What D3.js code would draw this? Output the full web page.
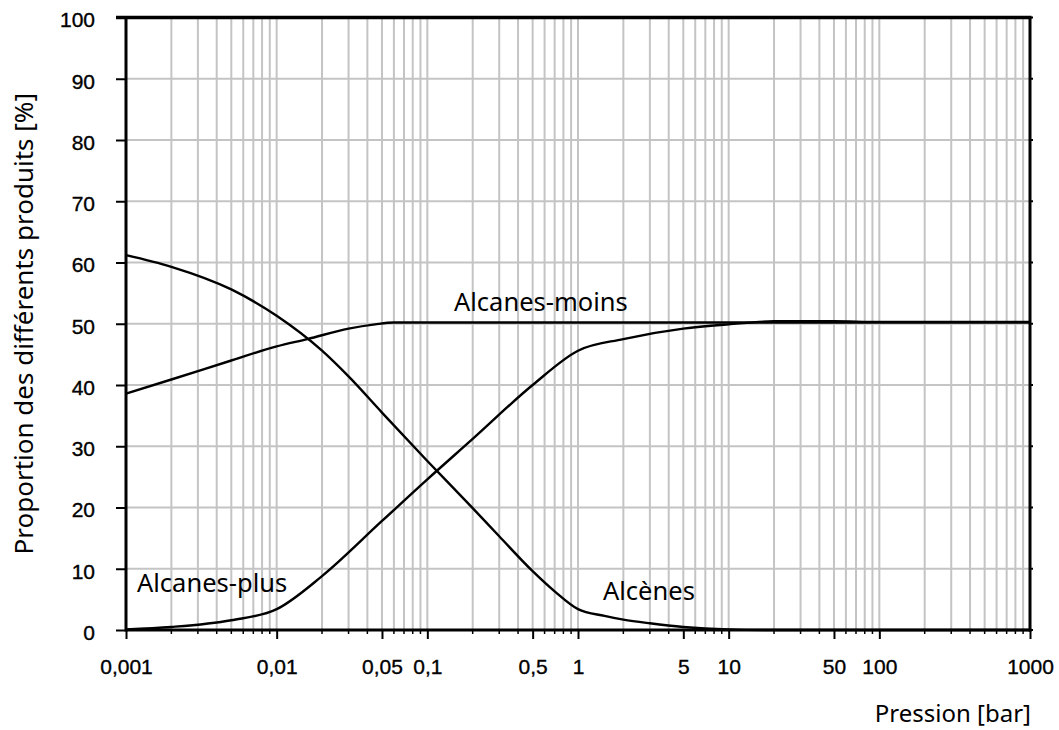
<!DOCTYPE html>
<html>
<head>
<meta charset="utf-8">
<script src="https://cdn.jsdelivr.net/npm/d3@7/dist/d3.min.js"></script>
<style>
  html, body { margin: 0; padding: 0; background: #fff; }
  svg { display: block; }
</style>
</head>
<body>
<svg id="chart" width="1059" height="730"></svg>
<script>
// ---- data ----
const xTickValues = [0.001, 0.01, 0.05, 0.1, 0.5, 1, 5, 10, 50, 100, 1000];
const xTickLabels = ["0,001", "0,01", "0,05", "0,1", "0,5", "1", "5", "10", "50", "100", "1000"];
const yTickValues = [0, 10, 20, 30, 40, 50, 60, 70, 80, 90, 100];

const pressionMoins = [0.001, 0.002, 0.005, 0.01, 0.016, 0.03, 0.045, 0.06, 1, 10, 100, 1000];
const alcanesMoins  = [38.6, 40.9, 44.0, 46.3, 47.5, 49.2, 49.9, 50.2, 50.2, 50.2, 50.2, 50.2];

const pressionPlus = [0.001, 0.002, 0.005, 0.01, 0.02, 0.05, 0.1, 0.2, 0.5, 1, 2, 5, 10, 20, 50, 100, 1000];
const alcanesPlus  = [0.1, 0.5, 1.6, 3.4, 8.8, 17.8, 24.6, 31.2, 40.0, 45.6, 47.5, 49.2, 49.9, 50.4, 50.4, 50.3, 50.3];

const pressionAlcenes = [0.001, 0.002, 0.005, 0.01, 0.02, 0.03, 0.05, 0.1, 0.2, 0.3, 0.5, 0.7, 1, 1.5, 2, 3, 5, 10, 20, 100, 1000];
const alcenes         = [61.2, 59.3, 55.6, 51.3, 45.6, 41.4, 35.5, 27.6, 19.9, 15.3, 9.6, 6.3, 3.4, 2.3, 1.7, 1.1, 0.5, 0.1, 0, 0, 0];

const seriesLabels = ["Alcanes-moins", "Alcanes-plus", "Alcènes"];
const yTitle = "Proportion des différents produits [%]";
const xTitle = "Pression [bar]";

// ---- layout ----
const svg = d3.select("#chart");
const x = d3.scaleLog().domain([0.001, 1000]).range([126, 1030]);
const y = d3.scaleLinear().domain([0, 100]).range([630, 17.5]);

const gridColor = "#c4c4c4";

// vertical grid at every log tick
const minorVals = [];
for (let e = -3; e < 3; e++) for (let m = 1; m <= 9; m++) minorVals.push(+(m * Math.pow(10, e)).toPrecision(6));
minorVals.push(1000);

svg.append("g").selectAll("line").data(minorVals.filter(v => v > 0.001 && v < 1000)).join("line")
  .attr("x1", d => x(d)).attr("x2", d => x(d))
  .attr("y1", y(100)).attr("y2", y(0))
  .attr("stroke", gridColor).attr("stroke-width", 2);

svg.append("g").selectAll("line").data(yTickValues.filter(v => v > 0 && v < 100)).join("line")
  .attr("x1", x(0.001)).attr("x2", x(1000))
  .attr("y1", d => y(d)).attr("y2", d => y(d))
  .attr("stroke", gridColor).attr("stroke-width", 2);

// ---- curves ----
const line = d3.line().x(d => x(d[0])).y(d => y(d[1])).curve(d3.curveMonotoneX);
const series = [
  d3.zip(pressionMoins, alcanesMoins),
  d3.zip(pressionPlus, alcanesPlus),
  d3.zip(pressionAlcenes, alcenes)
];
svg.append("g").selectAll("path").data(series).join("path")
  .attr("d", line).attr("fill", "none")
  .attr("stroke", "#000").attr("stroke-width", 2.4);

// ---- axes ----
const tickFont = "'Liberation Sans', Arial, sans-serif";

// bottom axis: minor ticks
svg.append("g").selectAll("line").data(minorVals.filter(v => !xTickValues.includes(v))).join("line")
  .attr("x1", d => x(d)).attr("x2", d => x(d))
  .attr("y1", y(0)).attr("y2", y(0) + 4)
  .attr("stroke", "#000").attr("stroke-width", 1.5);

const xAxis = d3.axisBottom(x).tickValues(xTickValues)
  .tickFormat((d, i) => xTickLabels[i]).tickSize(9).tickPadding(20);
const gx = svg.append("g").attr("transform", `translate(0,${y(0)})`).call(xAxis);
gx.select(".domain").remove();
gx.selectAll(".tick line").attr("stroke", "#000").attr("stroke-width", 2);
gx.selectAll(".tick text").attr("font-family", tickFont).attr("font-size", 21).attr("fill", "#000")
  .attr("stroke", "#000").attr("stroke-width", 0.35);

const yAxis = d3.axisLeft(y).tickValues(yTickValues).tickSize(10).tickPadding(21);
const gy = svg.append("g").attr("transform", `translate(${x(0.001)},0)`).call(yAxis);
gy.select(".domain").remove();
gy.selectAll(".tick line").attr("stroke", "#000").attr("stroke-width", 2);
gy.selectAll(".tick text").attr("font-family", tickFont).attr("font-size", 21).attr("fill", "#000")
  .attr("stroke", "#000").attr("stroke-width", 0.35)
  .attr("dy", "0.45em");

// right small ticks
svg.append("g").selectAll("line").data(yTickValues).join("line")
  .attr("x1", x(1000)).attr("x2", x(1000) + 3)
  .attr("y1", d => y(d)).attr("y2", d => y(d))
  .attr("stroke", "#000").attr("stroke-width", 2);

// frame
svg.append("line").attr("x1", x(0.001)).attr("x2", x(0.001)).attr("y1", y(100) - 1.5).attr("y2", y(0) + 1.5)
  .attr("stroke", "#000").attr("stroke-width", 3);
svg.append("line").attr("x1", x(0.001)).attr("x2", x(1000) + 1.5).attr("y1", y(0)).attr("y2", y(0))
  .attr("stroke", "#000").attr("stroke-width", 3);
svg.append("line").attr("x1", x(0.001) - 10).attr("x2", x(1000) + 1.5).attr("y1", y(100)).attr("y2", y(100))
  .attr("stroke", "#000").attr("stroke-width", 3.5);
svg.append("line").attr("x1", x(1000)).attr("x2", x(1000)).attr("y1", y(100)).attr("y2", y(0) + 1.5)
  .attr("stroke", "#000").attr("stroke-width", 3);

// ---- text ----
const labelFont = "'Noto Sans', 'Open Sans', sans-serif";
const labelPos = [[454, 310.5], [137, 592], [603, 600]];
svg.append("g").selectAll("text").data(seriesLabels).join("text")
  .attr("x", (d, i) => labelPos[i][0]).attr("y", (d, i) => labelPos[i][1])
  .attr("font-family", labelFont).attr("font-size", 25.5).attr("fill", "#000")
  .text(d => d);

svg.append("text").attr("x", 1031).attr("y", 722)
  .attr("text-anchor", "end").attr("font-family", labelFont).attr("font-size", 24).attr("fill", "#000")
  .text(xTitle);

svg.append("text").attr("transform", `translate(33,${(y(0) + y(100)) / 2}) rotate(-90)`)
  .attr("text-anchor", "middle").attr("font-family", labelFont).attr("font-size", 26).attr("fill", "#000")
  .text(yTitle);
</script>
</body>
</html>
